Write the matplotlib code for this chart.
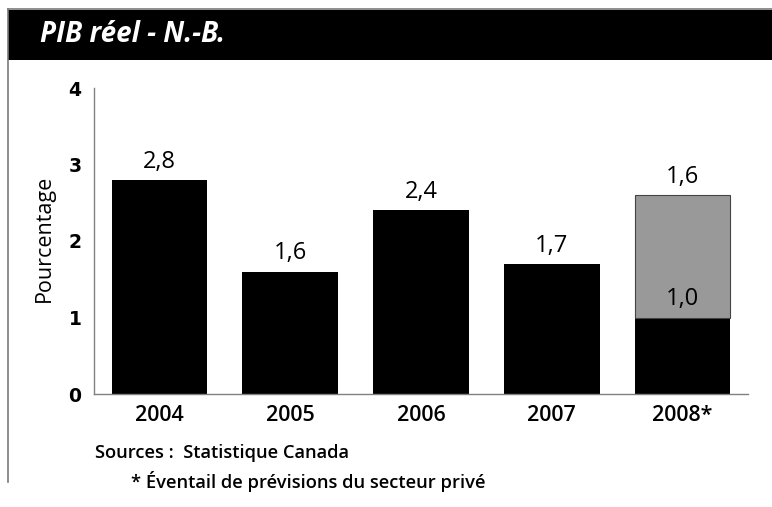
import matplotlib.pyplot as plt
from matplotlib.patches import Rectangle
from matplotlib.lines import Line2D

# data
years = ['2004', '2005', '2006', '2007', '2008*']
gdp = [2.8, 1.6, 2.4, 1.7, 1.0]
forecast_range = [0, 0, 0, 0, 1.6]   # private sector forecast spread, 2008 only
value_labels = ['2,8', '1,6', '2,4', '1,7', '1,0']
range_labels = ['', '', '', '', '1,6']
yticks = [0, 1, 2, 3, 4]

title = 'PIB réel - N.-B.'
ylabel = 'Pourcentage'
source_line = 'Sources :  Statistique Canada'
note_line = '* Éventail de prévisions du secteur privé'

FONT = ['Open Sans', 'DejaVu Sans']

fig = plt.figure(figsize=(7.72, 5.07), dpi=100)
W, H = 772, 507

def fx(px):
    return px / W

def fy(py):
    return 1 - py / H

# frame: grey top and left rule, black title band
fig.add_artist(Line2D([fx(8), 1], [fy(9), fy(9)], color='#7a7a7a', lw=1.2))
fig.add_artist(Line2D([fx(8), fx(8)], [fy(9), fy(482)], color='#7a7a7a', lw=1.2))
fig.add_artist(Rectangle((fx(8), fy(60)), 1 - fx(8), fy(10) - fy(60),
                         facecolor='black', edgecolor='none'))
fig.text(fx(40), fy(35), title, color='white', fontsize=20, fontweight='bold',
         fontstyle='italic', va='center', ha='left', family=FONT)

ax = fig.add_axes([fx(94), fy(394), fx(748) - fx(94), fy(88) - fy(394)])
x = range(len(years))
ax.bar(x, gdp, width=0.73, color='black', edgecolor='none')
ax.bar(x, forecast_range, width=0.73, bottom=gdp, color='#999999',
       edgecolor=['none'] * 4 + ['#444444'], linewidth=0.8)

for i in x:
    ax.text(i, gdp[i] + 0.08, value_labels[i], ha='center', va='bottom',
            fontsize=17, fontweight='medium', family=FONT)
    if range_labels[i]:
        ax.text(i, gdp[i] + forecast_range[i] + 0.08, range_labels[i],
                ha='center', va='bottom', fontsize=17, fontweight='medium',
                family=FONT)

ax.set_xlim(-0.5, 4.5)
ax.set_ylim(0, 4)
ax.set_yticks(yticks)
ax.set_yticklabels([str(t) for t in yticks], fontsize=13.5, fontweight='bold',
                   family=['DejaVu Sans'])
ax.set_xticks(list(x))
ax.set_xticklabels(years, fontsize=15.5, fontweight='semibold', family=FONT)
ax.tick_params(axis='both', length=0)
ax.tick_params(axis='y', pad=9)
ax.tick_params(axis='x', pad=8)
for s in ['top', 'right']:
    ax.spines[s].set_visible(False)
for s in ['left', 'bottom']:
    ax.spines[s].set_color('#808080')
    ax.spines[s].set_linewidth(1)

fig.text(fx(44), fy(238), ylabel, rotation=90, ha='center', va='center',
         fontsize=15.5, fontweight='medium', family=FONT)
fig.text(fx(95), fy(453), source_line, ha='left', va='center', fontsize=13.2,
         fontweight='semibold', family=FONT)
fig.text(fx(131), fy(482), note_line, ha='left', va='center', fontsize=13.2,
         fontweight='semibold', family=FONT)

fig.savefig('out.png', dpi=100)
